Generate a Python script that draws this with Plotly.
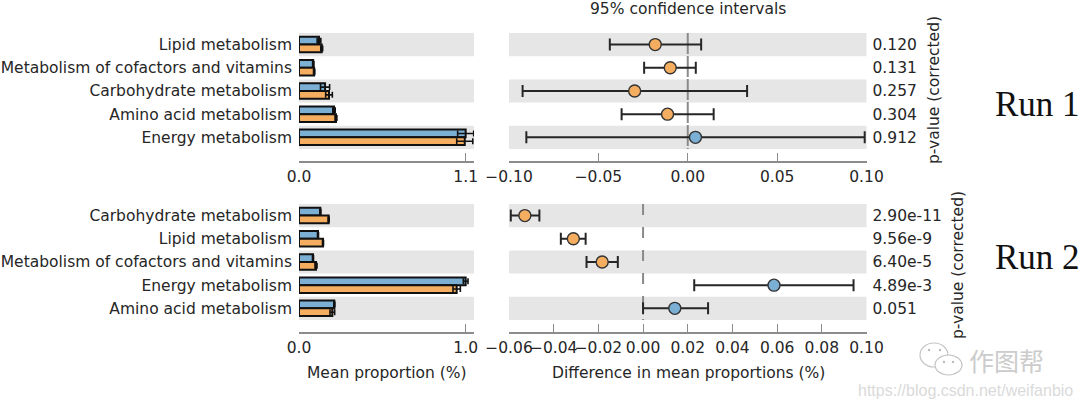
import plotly.graph_objects as go

# ---------- Data ----------
run1_labels = ["Lipid metabolism", "Metabolism of cofactors and vitamins",
               "Carbohydrate metabolism", "Amino acid metabolism", "Energy metabolism"]
run1_pvalues = ["0.120", "0.131", "0.257", "0.304", "0.912"]
run1_blue = [0.132, 0.094, 0.172, 0.231, 1.100]
run1_orange = [0.150, 0.100, 0.198, 0.244, 1.094]
run1_blue_err = [0.012, 0.004, 0.030, 0.008, 0.053]
run1_orange_err = [0.006, 0.004, 0.022, 0.006, 0.053]
run1_diff = [-0.0182, -0.0098, -0.0297, -0.0113, 0.0043]
run1_low = [-0.0436, -0.0244, -0.0924, -0.0370, -0.0903]
run1_high = [0.0075, 0.0045, 0.0332, 0.0145, 0.0990]
run1_mean_ticks = [0.0, 1.1]
run1_diff_ticks = [-0.10, -0.05, 0.0, 0.05, 0.10]

run2_labels = ["Carbohydrate metabolism", "Lipid metabolism",
               "Metabolism of cofactors and vitamins", "Energy metabolism", "Amino acid metabolism"]
run2_pvalues = ["2.90e-11", "9.56e-9", "6.40e-5", "4.89e-3", "0.051"]
run2_blue = [0.128, 0.114, 0.084, 1.000, 0.212]
run2_orange = [0.178, 0.144, 0.102, 0.946, 0.200]
run2_blue_err = [0.003, 0.003, 0.003, 0.014, 0.003]
run2_orange_err = [0.003, 0.003, 0.006, 0.022, 0.014]
run2_diff = [-0.0529, -0.0312, -0.0183, 0.0586, 0.0142]
run2_low = [-0.0592, -0.0368, -0.0253, 0.0229, 0.0]
run2_high = [-0.0464, -0.0257, -0.0113, 0.0942, 0.0291]
run2_mean_ticks = [0.0, 1.0]
run2_diff_ticks = [-0.06, -0.04, -0.02, 0.0, 0.02, 0.04, 0.06, 0.08, 0.10]

# ---------- Style ----------
W, H = 1080, 408
BLUE = "#7bafd4"
ORANGE = "#f5ae5f"
BAND = "#e6e6e6"
INK = "#262626"
AXIS = "#8c8c8c"
SANS = "DejaVu Sans"
FS = 15.5

def px(v): return v / W
def py(v): return 1 - v / H

fig = go.Figure()

def panel(n, labels, pvals, blue, orange, berr, oerr, diff, lo, hi, mticks, dticks,
          mrange, drange, top, bottom, dash):
    lx, ly = ("x", "y") if n == 1 else (f"x{2*n-1}", f"y{2*n-1}")
    rx, ry = (f"x{2*n}", f"y{2*n}")
    for vals, err, col in ((blue, berr, BLUE), (orange, oerr, ORANGE)):
        fig.add_trace(go.Bar(x=vals, y=labels, orientation="h", xaxis=lx, yaxis=ly,
                             marker=dict(color=col, line=dict(color="#111111", width=2)),
                             error_x=dict(type="data", array=err, color="#111111", thickness=1.6, width=3),
                             showlegend=False))
    colors = [ORANGE if d < 0 else BLUE for d in diff]
    fig.add_trace(go.Scatter(x=diff, y=pvals, mode="markers", xaxis=rx, yaxis=ry,
                             marker=dict(color=colors, size=12, line=dict(color="#333333", width=1.4)),
                             error_x=dict(type="data", symmetric=False,
                                          array=[h - d for h, d in zip(hi, diff)],
                                          arrayminus=[d - l for d, l in zip(diff, lo)],
                                          color=INK, thickness=2, width=6),
                             showlegend=False))
    yr = [5.02, -0.5]
    axname = lambda a: a.replace("x", "xaxis").replace("y", "yaxis")
    dom_y = [py(bottom), py(top)]
    common_x = dict(ticks="inside", ticklen=8, tickcolor=AXIS, tickwidth=1, tickangle=0,
                    showline=True, linecolor=AXIS, linewidth=2, showgrid=False, zeroline=False,
                    automargin=False, tickfont=dict(family=SANS, size=FS, color=INK))
    common_y = dict(domain=dom_y, range=yr, type="category", categoryorder="array",
                    showgrid=False, zeroline=False, showline=False, ticks="", automargin=False,
                    tickfont=dict(family=SANS, size=FS, color=INK))
    fig.update_layout({
        axname(lx): dict(domain=[px(299), px(474)], range=mrange, anchor=ly, tickvals=mticks,
                         tickformat=".1f", **common_x),
        axname(ly): dict(anchor=lx, categoryarray=labels, ticklabelstandoff=6, **common_y),
        axname(rx): dict(domain=[px(509), px(866.5)], range=drange, anchor=ry, tickvals=dticks,
                         tickformat=".2f", **common_x),
        axname(ry): dict(anchor=rx, side="right", categoryarray=pvals, ticklabelstandoff=5, **common_y),
    })
    for i in (0, 2, 4):
        for xa, ya in ((lx, ly), (rx, ry)):
            fig.add_shape(type="rect", xref=f"{xa} domain", yref=ya, x0=0, x1=1,
                          y0=i - 0.5, y1=i + 0.5, fillcolor=BAND, line_width=0, layer="below")
    fig.add_shape(type="line", xref=rx, yref=ry, x0=0, x1=0, y0=-0.5, y1=4.5,
                  line=dict(color="#8a8a8a", width=2, dash=dash), layer="below")

panel(1, run1_labels, run1_pvalues, run1_blue, run1_orange, run1_blue_err, run1_orange_err,
      run1_diff, run1_low, run1_high, run1_mean_ticks, run1_diff_ticks,
      [0, 1.155], [-0.10, 0.10], 33, 161, "21px,2px")
panel(2, run2_labels, run2_pvalues, run2_blue, run2_orange, run2_blue_err, run2_orange_err,
      run2_diff, run2_low, run2_high, run2_mean_ticks, run2_diff_ticks,
      [0, 1.05], [-0.06, 0.10], 204, 332, "11px,12px")

def note(text, x, y, size=FS, color=INK, family=SANS, angle=0):
    fig.add_annotation(text=text, x=px(x), y=py(y), xref="paper", yref="paper", showarrow=False,
                       xanchor="center", yanchor="middle", textangle=angle,
                       font=dict(family=family, size=size, color=color))

note("95% confidence intervals", 688, 9)
note("Mean proportion (%)", 387, 373)
note("Difference in mean proportions (%)", 688, 373)
note("p-value (corrected)", 934, 90, angle=-90)
note("p-value (corrected)", 958, 265, angle=-90)
note("Run 1", 1037, 104, size=35, color="#111111", family="Liberation Serif")
note("Run 2", 1037, 257, size=35, color="#111111", family="Liberation Serif")
note("作图帮", 1006, 360, size=25, color="#cccccc", family="Noto Sans CJK SC")
note("https://blog.csdn.net/weifanbio", 965, 390, size=16, color="#dadada", family="Liberation Sans")

# WeChat-style watermark icon: two overlapping bubbles with eye dots
for x0, x1, y0, y1 in ((920, 948, 343, 367), (935, 962, 355, 375)):
    fig.add_shape(type="circle", xref="paper", yref="paper", x0=px(x0), x1=px(x1),
                  y0=py(y1), y1=py(y0), fillcolor="white", line=dict(color="#c4c4c4", width=1.2))
for cx, cy in ((929, 350), (940, 350), (944, 362), (953, 362)):
    fig.add_shape(type="circle", xref="paper", yref="paper", x0=px(cx - 1.2), x1=px(cx + 1.2),
                  y0=py(cy + 1.2), y1=py(cy - 1.2), fillcolor="#bbbbbb", line_width=0)

fig.update_layout(width=W, height=H, margin=dict(l=0, r=0, t=0, b=0), paper_bgcolor="white",
                  plot_bgcolor="rgba(0,0,0,0)", barmode="group", bargap=0.33, bargroupgap=0,
                  showlegend=False)
fig.write_html("out.html", config=dict(displayModeBar=False),
               post_script="document.body.style.margin='0';")
